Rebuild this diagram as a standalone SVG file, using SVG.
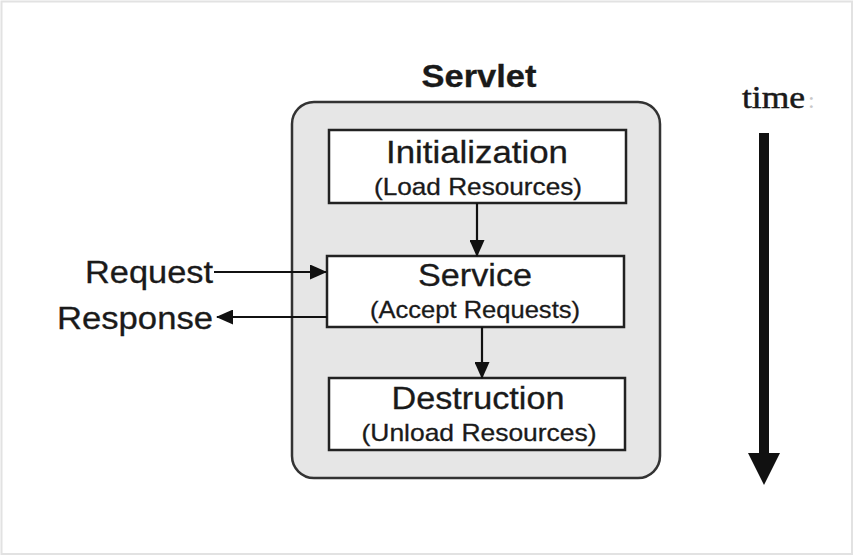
<svg xmlns="http://www.w3.org/2000/svg" width="854" height="557" viewBox="0 0 854 557">
<style>
.sans{font-family:"Liberation Sans",Arial,sans-serif;fill:#1a1a1a;stroke:#1a1a1a;stroke-width:0.3}
.title{font-size:31px;font-weight:bold}
.main{font-size:31px}
.sub{font-size:24px}
.box{fill:#fff;stroke:#222;stroke-width:2.5}
.conn{stroke:#111;stroke-width:2.2;fill:none}
</style>
<defs>
<marker id="ah" markerUnits="userSpaceOnUse" markerWidth="17" markerHeight="15" refX="16" refY="7.5" orient="auto">
<path d="M0,0 L17,7.5 L0,15 Z" fill="#111"/>
</marker>
</defs>
<rect x="0" y="0" width="854" height="557" fill="#fff"/>
<rect x="1.5" y="1.5" width="850.5" height="552.5" fill="none" stroke="#e2e2e2" stroke-width="2"/>
<g id="servlet">
<rect x="292" y="102" width="368" height="376" rx="22" ry="22" fill="#e6e6e6" stroke="#333" stroke-width="2.5"/>
<text class="sans title" x="479" y="87" text-anchor="middle" textLength="115" lengthAdjust="spacingAndGlyphs">Servlet</text>
</g>
<g id="initialization">
<rect class="box" x="329" y="130" width="297" height="73"/>
<text class="sans main" x="477" y="163" text-anchor="middle" textLength="182" lengthAdjust="spacingAndGlyphs">Initialization</text>
<text class="sans sub" x="478" y="195" text-anchor="middle" textLength="208" lengthAdjust="spacingAndGlyphs">(Load Resources)</text>
</g>
<g id="service">
<rect class="box" x="327" y="256" width="297" height="71"/>
<text class="sans main" x="475" y="286" text-anchor="middle" textLength="114" lengthAdjust="spacingAndGlyphs">Service</text>
<text class="sans sub" x="475" y="318" text-anchor="middle" textLength="210" lengthAdjust="spacingAndGlyphs">(Accept Requests)</text>
</g>
<g id="destruction">
<rect class="box" x="329" y="378" width="296" height="72"/>
<text class="sans main" x="478" y="409" text-anchor="middle" textLength="173" lengthAdjust="spacingAndGlyphs">Destruction</text>
<text class="sans sub" x="479" y="441" text-anchor="middle" textLength="235" lengthAdjust="spacingAndGlyphs">(Unload Resources)</text>
</g>
<g id="request">
<text class="sans main" x="213" y="283" text-anchor="end" textLength="128" lengthAdjust="spacingAndGlyphs">Request</text>
</g>
<g id="response">
<text class="sans main" x="213" y="329" text-anchor="end" textLength="156" lengthAdjust="spacingAndGlyphs">Response</text>
</g>
<g id="time">
<text x="742" y="108" font-family="'Liberation Serif','Times New Roman',serif" font-size="31" fill="#1a1a1a" stroke="#1a1a1a" stroke-width="0.5" textLength="63" lengthAdjust="spacingAndGlyphs">time</text>
<text x="808" y="108" font-family="'Liberation Serif','Times New Roman',serif" font-size="24" fill="#c8c8c8">:</text>
<rect x="759" y="133" width="10" height="322" fill="#111"/>
<polygon points="748,453 780,453 764,485" fill="#111"/>
</g>
<g id="connectors">
<line class="conn" x1="477" y1="203" x2="477" y2="256" marker-end="url(#ah)"/>
<line class="conn" x1="482" y1="327" x2="482" y2="378" marker-end="url(#ah)"/>
<line class="conn" x1="214" y1="272" x2="326" y2="272" marker-end="url(#ah)"/>
<line class="conn" x1="327" y1="317" x2="217" y2="317" marker-end="url(#ah)"/>
</g>
</svg>
